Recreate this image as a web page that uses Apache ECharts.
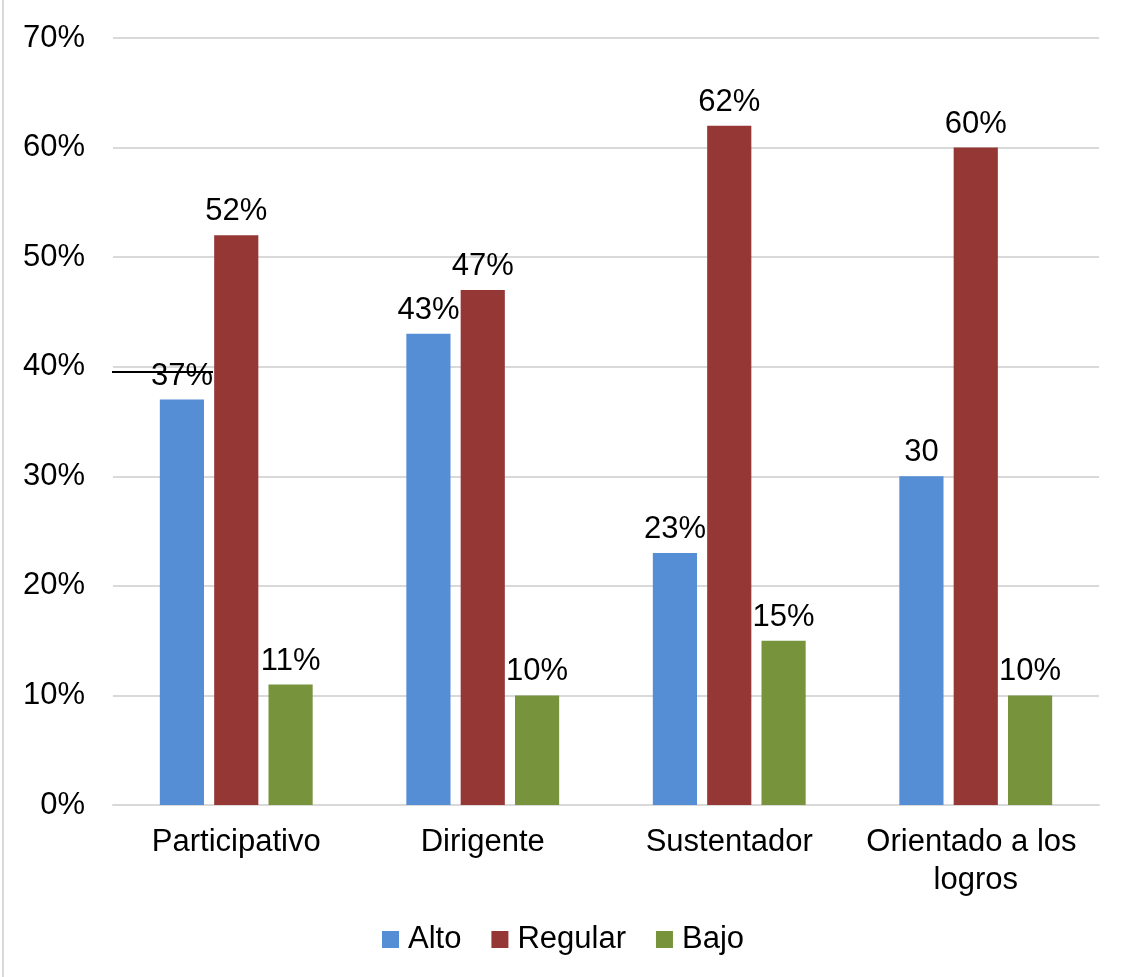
<!DOCTYPE html>
<html>
<head>
<meta charset="utf-8">
<script src="https://cdn.jsdelivr.net/npm/echarts@6/dist/echarts.min.js"></script>
<style>
    html, body { margin: 0; padding: 0; background: #fff; }
    #chart { width: 1126px; height: 977px; }
</style>
</head>
<body>
<div id="chart"></div>
<script>
    // datos
    var categorias = ['Participativo', 'Dirigente', 'Sustentador', 'Orientado a los logros'];
    var alto = [37, 43, 23, 30];
    var regular = [52, 47, 62, 60];
    var bajo = [11, 10, 15, 10];
    // etiquetas tal como aparecen (la de Orientado/Alto no lleva %)
    var etiquetasAlto = ['37%', '43%', '23%', '30'];
    var ticksY = [0, 10, 20, 30, 40, 50, 60, 70];

    var fuente = '"Liberation Sans", Arial, sans-serif';
    var myChart = echarts.init(document.getElementById('chart'));

    function etiqueta(textos) {
        return {
            show: true,
            position: 'top',
            distance: 8,
            fontFamily: fuente,
            fontSize: 31,
            color: '#000',
            formatter: function (p) {
                return textos ? textos[p.dataIndex] : p.value + '%';
            }
        };
    }

    var options = {
        animation: false,
        backgroundColor: '#fff',
        grid: {
            left: 113,
            right: 27,
            top: 38,
            bottom: 172
        },
        legend: {
            bottom: 17,
            left: 'center',
            icon: 'rect',
            itemWidth: 17,
            itemHeight: 17,
            itemGap: 30,
            textStyle: { fontFamily: fuente, fontSize: 31, color: '#000', padding: [0, 0, 0, 4] },
            data: ['Alto', 'Regular', 'Bajo']
        },
        xAxis: {
            type: 'category',
            data: categorias,
            axisTick: { show: false },
            axisLine: { lineStyle: { color: '#D9D9D9', width: 2 } },
            axisLabel: {
                fontFamily: fuente,
                fontSize: 31,
                color: '#000',
                margin: 18,
                lineHeight: 38,
                width: 240,
                overflow: 'break',
                interval: 0
            }
        },
        yAxis: {
            type: 'value',
            min: ticksY[0],
            max: ticksY[ticksY.length - 1],
            interval: 10,
            axisLine: { show: false },
            axisTick: { show: false },
            splitLine: { lineStyle: { color: '#D9D9D9', width: 2 } },
            axisLabel: {
                fontFamily: fuente,
                fontSize: 31,
                color: '#000',
                margin: 28,
                formatter: '{value}%'
            }
        },
        series: [
            {
                name: 'Alto',
                type: 'bar',
                data: alto,
                barGap: '23%',
                barCategoryGap: '38%',
                itemStyle: { color: '#558ED5' },
                label: etiqueta(etiquetasAlto)
            },
            {
                name: 'Regular',
                type: 'bar',
                data: regular,
                itemStyle: { color: '#953735' },
                label: etiqueta(null)
            },
            {
                name: 'Bajo',
                type: 'bar',
                data: bajo,
                itemStyle: { color: '#77933C' },
                label: etiqueta(null)
            }
        ],
        graphic: [
            {
                // borde izquierdo del marco
                type: 'line',
                shape: { x1: 3, y1: 0, x2: 3, y2: 977 },
                style: { stroke: '#D9D9D9', lineWidth: 2 }
            },
            {
                // trazo suelto sobre la etiqueta 37%
                type: 'line',
                z: 100,
                shape: { x1: 112, y1: 372, x2: 213, y2: 372 },
                style: { stroke: '#000', lineWidth: 2 }
            }
        ]
    };
    myChart.setOption(options);
</script>
</body>
</html>
